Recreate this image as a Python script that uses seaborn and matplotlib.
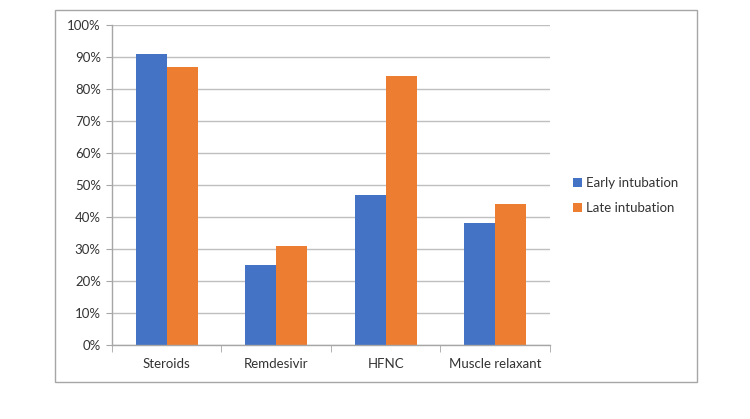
import pandas as pd
import matplotlib
matplotlib.use("Agg")
import matplotlib.pyplot as plt
import seaborn as sns
from matplotlib.patches import Rectangle
from matplotlib.ticker import PercentFormatter, FixedLocator

categories = ["Steroids", "Remdesivir", "HFNC", "Muscle relaxant"]
early = [91, 25, 47, 38]
late = [87, 31, 84, 44]
series = ["Early intubation", "Late intubation"]
colors = ["#4472C4", "#ED7D31"]

df = pd.DataFrame({
    "Category": categories * 2,
    "Group": [series[0]] * len(categories) + [series[1]] * len(categories),
    "Value": early + late,
})

sns.set_style("white")
plt.rcParams["font.family"] = ["Lato", "DejaVu Sans"]

fig = plt.figure(figsize=(7.5, 4.19), dpi=100)
ax = fig.add_axes([0.1493, 0.1766, 0.584, 0.7637])

sns.barplot(data=df, x="Category", y="Value", hue="Group", palette=colors,
            width=0.566, gap=0, saturation=1, ax=ax, linewidth=0)

ax.set_ylim(0, 100)
ax.set_xlim(-0.5, len(categories) - 0.5)
ax.set_yticks(range(0, 101, 10))
ax.yaxis.set_major_formatter(PercentFormatter(decimals=0))
ax.set_xlabel("")
ax.set_ylabel("")

grid_c = "#A6A6A6"
ax.grid(axis="y", color="#BFBFBF", linewidth=1)
ax.set_axisbelow(True)
for side in ["top", "right"]:
    ax.spines[side].set_visible(False)
for side in ["left", "bottom"]:
    ax.spines[side].set_color(grid_c)
    ax.spines[side].set_linewidth(1)

ax.tick_params(axis="y", which="major", length=4, color=grid_c, labelsize=9.5,
               labelcolor="#333333", pad=4, left=True)
ax.tick_params(axis="x", which="major", length=0, labelsize=9.5,
               labelcolor="#333333", pad=9)
ax.xaxis.set_minor_locator(FixedLocator([i - 0.5 for i in range(len(categories) + 1)]))
ax.tick_params(axis="x", which="minor", length=5, color=grid_c, bottom=True)

leg = ax.legend(loc="center left", bbox_to_anchor=(1.025, 0.466), frameon=False,
                fontsize=9.5, handlelength=0.7, handleheight=0.7,
                handletextpad=0.3, labelspacing=1.0)
for t in leg.get_texts():
    t.set_color("#333333")

fig.patches.append(Rectangle((0.0733, 0.0883), 0.8557, 0.8877, transform=fig.transFigure,
                             fill=False, edgecolor="#A6A6A6", linewidth=1))

fig.savefig("out.png", dpi=100)
